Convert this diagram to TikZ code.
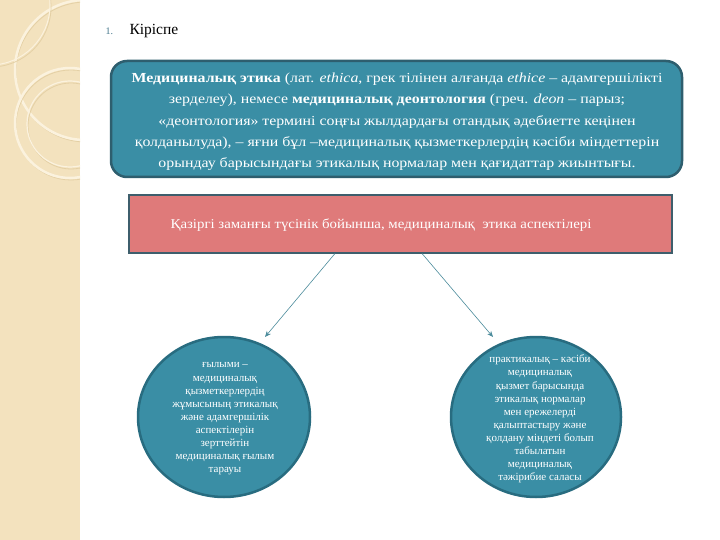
\documentclass[tikz,border=0pt]{standalone}
\usepackage{fontspec}
\setmainfont{Liberation Serif}
\newfontfamily\topfont[FakeStretch=1.15]{Liberation Serif}
\newfontfamily\pinkfont[FakeStretch=1.1]{Liberation Serif}
\usetikzlibrary{arrows.meta,calc}
\definecolor{tealfill}{RGB}{58,142,165}
\definecolor{tealborder}{RGB}{46,94,110}
\definecolor{ellborder}{RGB}{40,108,128}
\definecolor{pinkfill}{RGB}{223,122,122}
\definecolor{pinkborder}{RGB}{62,94,108}
\definecolor{beige}{RGB}{243,226,190}
\definecolor{beigelight}{RGB}{251,242,222}
\definecolor{beigedark}{RGB}{228,208,165}
\definecolor{arrowcol}{RGB}{76,140,156}
\definecolor{numcol}{RGB}{70,120,140}
\tikzset{
  topbox/.style={draw=tealborder, line width=2.5pt, fill=tealfill, rounded corners=16pt,
     minimum width=571pt, minimum height=116pt, inner sep=0pt},
  pinkbox/.style={draw=pinkborder, line width=2pt, fill=pinkfill,
     minimum width=543pt, minimum height=57pt, inner sep=0pt},
  ovalshape/.style={draw=ellborder, line width=2.5pt, fill=tealfill},
  ovaltext/.style={text=white, align=center, font=\fontsize{11}{13.1}\selectfont},
  conn/.style={draw=arrowcol, line width=0.6pt, -{Stealth[length=6pt,width=5pt]}},
  deco/.style={draw=beigelight, line width=2.5pt},
  decoshadow/.style={draw=beigedark, line width=0.8pt},
}
\begin{document}
\begin{tikzpicture}[x=1pt,y=-1pt]
\useasboundingbox (0,0) rectangle (720,540);
\fill[white] (0,0) rectangle (720,540);
% left decorative strip
\fill[beige] (0,0) rectangle (80,540);
\begin{scope}
\clip (0,0) rectangle (80,540);
\draw[decoshadow] (86,72) circle (70);
\draw[deco] (85,70) circle (70);
\draw[decoshadow] (-9,7) circle (60);
\draw[beigelight, line width=1pt] (-10,5) circle (60);
\draw[decoshadow] (71,125) circle (55);
\draw[deco] (70,123) circle (55);
\draw[decoshadow] (71,126) circle (43);
\draw[beigelight, line width=1.2pt] (70,124) circle (43);
\end{scope}
% heading
\node[anchor=base west, text=numcol, font=\fontsize{10}{12}\selectfont] (num) at (102,35) {1.};
\node[anchor=base west, font=\fontsize{15.5}{18}\selectfont] (head) at (126,35) {Кіріспе};
% top box
\node[topbox] (top) at (396.5,119) {};
\node[text=white, align=center, font=\topfont\fontsize{13.8}{21.3}\selectfont] (toptext) at (397,122)
{\textbf{Медициналық этика} (лат. \textit{ethica}, грек тілінен алғанда \textit{ethice} – адамгершілікті\\
зерделеу), немесе \textbf{медициналық деонтология} (греч. \textit{deon} – парыз;\\
«деонтология» термині соңғы жылдардағы отандық әдебиетте кеңінен\\
қолданылуда), – яғни бұл –медициналық қызметкерлердің кәсіби міндеттерін\\
орындау барысындағы этикалық нормалар мен қағидаттар жиынтығы.};
% pink box
\node[pinkbox] (pink) at (400,224) {};
\node[text=white, font=\pinkfont\fontsize{13.5}{16}\selectfont] (pinktext) at (381,225)
{Қазіргі заманғы түсінік бойынша, медициналық\ \ этика аспектілері};
% ellipses
\draw[ovalshape] (224,417) ellipse [x radius=86, y radius=80];
\draw[ovalshape] (536,417) ellipse [x radius=85, y radius=80];
\node[ovaltext] (left) at (225,419)
{ғылыми –\\ медициналық\\ қызметкерлердің\\ жұмысының этикалық\\ және адамгершілік\\ аспектілерін\\ зерттейтін\\ медициналық ғылым\\ тарауы};
\node[ovaltext] (right) at (540,419)
{практикалық – кәсіби\\ медициналық\\ қызмет барысында\\ этикалық нормалар\\ мен ережелерді\\ қалыптастыру және\\ қолдану міндеті болып\\ табылатын\\ медициналық\\ тәжірибие саласы};
% connectors
\coordinate (s1) at ($(pink.south)+(-65,0)$);
\coordinate (s2) at ($(pink.south)+(22,0)$);
\coordinate (e1) at (265,337);
\coordinate (e2) at (493,337);
\draw[conn] (s1) -- (e1);
\draw[conn] (s2) -- (e2);
\end{tikzpicture}
\end{document}
